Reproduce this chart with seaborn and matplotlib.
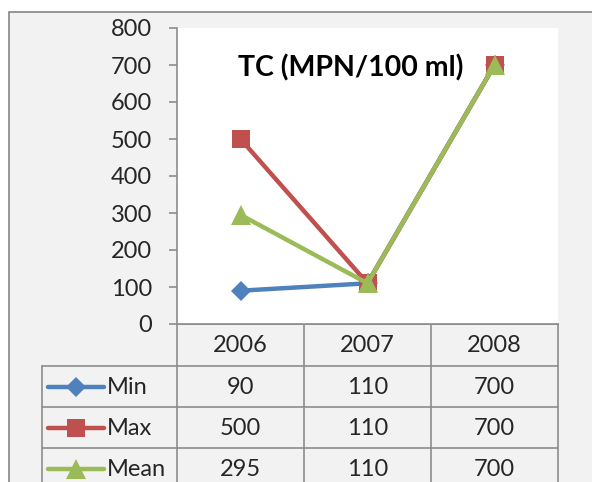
import matplotlib.pyplot as plt
from matplotlib.patches import Rectangle
import numpy as np
import pandas as pd
import seaborn as sns

# data
years = ["2006", "2007", "2008"]
series_names = ["Min", "Max", "Mean"]
min_vals = [90, 110, 700]
max_vals = [500, 110, 700]
mean_vals = [295, 110, 700]
y_ticks = [0, 100, 200, 300, 400, 500, 600, 700, 800]
title = "TC (MPN/100 ml)"

colors = {"Min": "#4f81bd", "Max": "#c0504d", "Mean": "#9bbb59"}
markers = {"Min": "D", "Max": "s", "Mean": "^"}
msizes = {"Min": 10, "Max": 13, "Mean": 15}
grid_col = "#8c8c8c"
fsize = 17

df = pd.DataFrame({
    "year": years * 3,
    "pos": list(range(len(years))) * 3,
    "series": np.repeat(series_names, len(years)),
    "value": min_vals + max_vals + mean_vals,
})

sns.set_style("white")
plt.rcParams["font.family"] = ["Lato", "DejaVu Sans"]

W, H = 592, 482
fig = plt.figure(figsize=(W / 100, H / 100), dpi=100)
fig.patch.set_facecolor("white")

# chart area (gray panel with border), pixel coordinates
bg = fig.add_axes([0, 0, 1, 1])
bg.set_xlim(0, W)
bg.set_ylim(H, 0)
bg.axis("off")
bg.add_patch(Rectangle((9, 12), W, H, facecolor="#f2f2f2", edgecolor="#868686", lw=1.2))

# plot area
L, R, T, B = 177, 558, 28, 324
ax = fig.add_axes([L / W, 1 - B / H, (R - L) / W, (B - T) / H])
ax.set_facecolor("white")

for name in series_names:
    sub = df[df["series"] == name]
    sns.lineplot(data=sub, x="pos", y="value", color=colors[name], marker=markers[name],
                 markersize=msizes[name], markeredgewidth=0, linewidth=3.2, ax=ax,
                 legend=False, zorder=3, clip_on=False)

ax.set_xlim(-0.5, len(years) - 0.5)
ax.set_ylim(0, 800)
ax.set_xticks([])
ax.set_yticks(y_ticks)
ax.set_xlabel("")
ax.set_ylabel("")
ax.tick_params(axis="y", direction="out", length=6, width=1.2, color=grid_col,
               labelsize=fsize, pad=12, left=True)
for s in ["top", "right"]:
    ax.spines[s].set_visible(False)
for s in ["left", "bottom"]:
    ax.spines[s].set_color(grid_col)
    ax.spines[s].set_linewidth(1.2)

ax.text(0.457, 0.865, title, transform=ax.transAxes, ha="center", va="center",
        fontsize=20.5, fontweight="bold", color="black")

# data table under the plot
col_w = (R - L) / len(years)
hdr_h = 42
row_h = 41
tbl_left = 42
lw = 1.2
bg.plot([L, R], [B, B], color=grid_col, lw=lw)
for i in range(len(series_names) + 1):
    yy = B + hdr_h + i * row_h
    bg.plot([tbl_left, R], [yy, yy], color=grid_col, lw=lw)
bg.plot([tbl_left, tbl_left], [B + hdr_h, H + 10], color=grid_col, lw=lw)
for j in range(len(years) + 1):
    xx = L + j * col_w
    bg.plot([xx, xx], [B, H + 10], color=grid_col, lw=lw)

for j, yr in enumerate(years):
    bg.text(L + (j + 0.5) * col_w, B + hdr_h / 2 + 1, yr, ha="center", va="center", fontsize=fsize)

vals = {"Min": min_vals, "Max": max_vals, "Mean": mean_vals}
for i, name in enumerate(series_names):
    yc = B + hdr_h + (i + 0.5) * row_h
    bg.plot([48, 104], [yc, yc], color=colors[name], lw=3.2, solid_capstyle="round")
    bg.plot([76], [yc], marker=markers[name], color=colors[name], markersize=msizes[name],
            markeredgewidth=0)
    bg.text(107, yc + 1, name, ha="left", va="center", fontsize=fsize)
    for j, v in enumerate(vals[name]):
        bg.text(L + (j + 0.5) * col_w, yc + 1, str(v), ha="center", va="center", fontsize=fsize)

fig.savefig("out.png", dpi=100, facecolor=fig.get_facecolor())
